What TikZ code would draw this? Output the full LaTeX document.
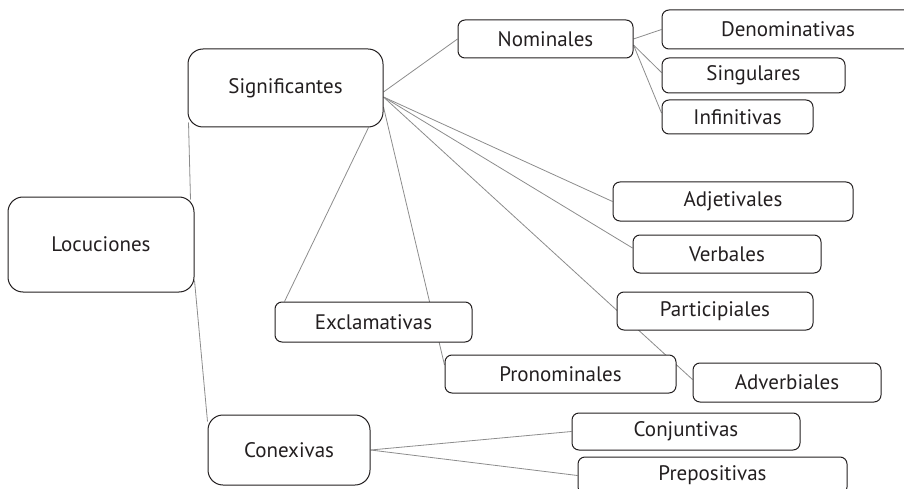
\documentclass[tikz,border=0pt]{standalone}
\usepackage{fontspec}
\setsansfont{PT Sans}
\usepackage{tikz}
\usetikzlibrary{positioning, backgrounds}
\definecolor{boxline}{RGB}{35, 31, 32}
\definecolor{linkgray}{RGB}{140, 140, 140}

\begin{document}
\begin{tikzpicture}[
    x=1pt, y=-1pt,
    concept/.style={rectangle, rounded corners=15pt, draw=boxline, fill=white, line width=1pt, text=boxline, font=\sffamily\fontsize{21}{24}\selectfont, inner sep=0pt},
    leaf/.style={rectangle, rounded corners=7pt, draw=boxline, fill=white, line width=1pt, text=boxline, font=\sffamily\fontsize{21}{24}\selectfont, inner sep=0pt},
    link/.style={draw=linkgray, line width=0.8pt}
]
\useasboundingbox (0,0) rectangle (904,489);

% Main concepts
\node[concept, minimum width=186pt, minimum height=95pt] (locuciones) at (101,244.5) {Locuciones};
\node[concept, minimum width=195pt, minimum height=78pt] (significantes) at (285.5,88) {Significantes};
\node[concept, minimum width=162pt, minimum height=70pt] (conexivas) at (289,450) {Conexivas};

% Nominales branch
\node[leaf, minimum width=175pt, minimum height=38pt] (nominales) at (545.5,39) {Nominales};
\node[leaf, minimum width=252pt, minimum height=39pt] (denominativas) at (788,29.5) {Denominativas};
\node[leaf, minimum width=183pt, minimum height=35pt] (singulares) at (753.5,75.5) {Singulares};
\node[leaf, minimum width=151pt, minimum height=34pt] (infinitivas) at (737.5,117) {Infinitivas};

% Other significant types
\node[leaf, minimum width=240pt, minimum height=39pt] (adjetivales) at (733,201.5) {Adjetivales};
\node[leaf, minimum width=188pt, minimum height=38pt] (verbales) at (727,254) {Verbales};
\node[leaf, minimum width=196pt, minimum height=38pt] (participiales) at (715,311) {Participiales};
\node[leaf, minimum width=188pt, minimum height=39pt] (adverbiales) at (787,382.5) {Adverbiales};
\node[leaf, minimum width=197pt, minimum height=40pt] (exclamativas) at (373.5,322) {Exclamativas};
\node[leaf, minimum width=231pt, minimum height=38pt] (pronominales) at (560.5,374) {Pronominales};

% Connective types
\node[leaf, minimum width=228pt, minimum height=37pt] (conjuntivas) at (686,431.5) {Conjuntivas};
\node[leaf, minimum width=269pt, minimum height=37pt] (prepositivas) at (712.5,475.5) {Prepositivas};

\begin{scope}[on background layer]
% Root links
\draw[link] ([xshift=-4pt,yshift=-3pt]locuciones.north east) -- ([xshift=1pt,yshift=5pt]significantes.south west);
\draw[link] ([yshift=12pt]locuciones.south east) -- ([yshift=-7pt]conexivas.north west);

% Significantes links
\draw[link] ([yshift=-4pt]significantes.east) -- (nominales.west);
\draw[link] ([yshift=-9pt]significantes.east) -- (adjetivales.west);
\draw[link] ([yshift=-9pt]significantes.east) -- ([yshift=6pt]verbales.west);
\draw[link] ([yshift=-9pt]significantes.east) -- ([yshift=3pt]adverbiales.west);
\draw[link] ([xshift=-15pt]significantes.south east) -- ([xshift=10pt]exclamativas.north west);
\draw[link] ([yshift=-19pt]significantes.east) -- ([yshift=9pt]pronominales.west);

% Nominales links
\draw[link] (nominales.east) -- (denominativas.west);
\draw[link] ([yshift=-6pt]nominales.east) -- ([yshift=3pt]singulares.west);
\draw[link] ([yshift=-6pt]nominales.east) -- ([yshift=4pt]infinitivas.west);

% Conexivas links
\draw[link] (conexivas.east) -- (conjuntivas.west);
\draw[link] (conexivas.east) -- (prepositivas.west);
\end{scope}

\end{tikzpicture}
\end{document}
